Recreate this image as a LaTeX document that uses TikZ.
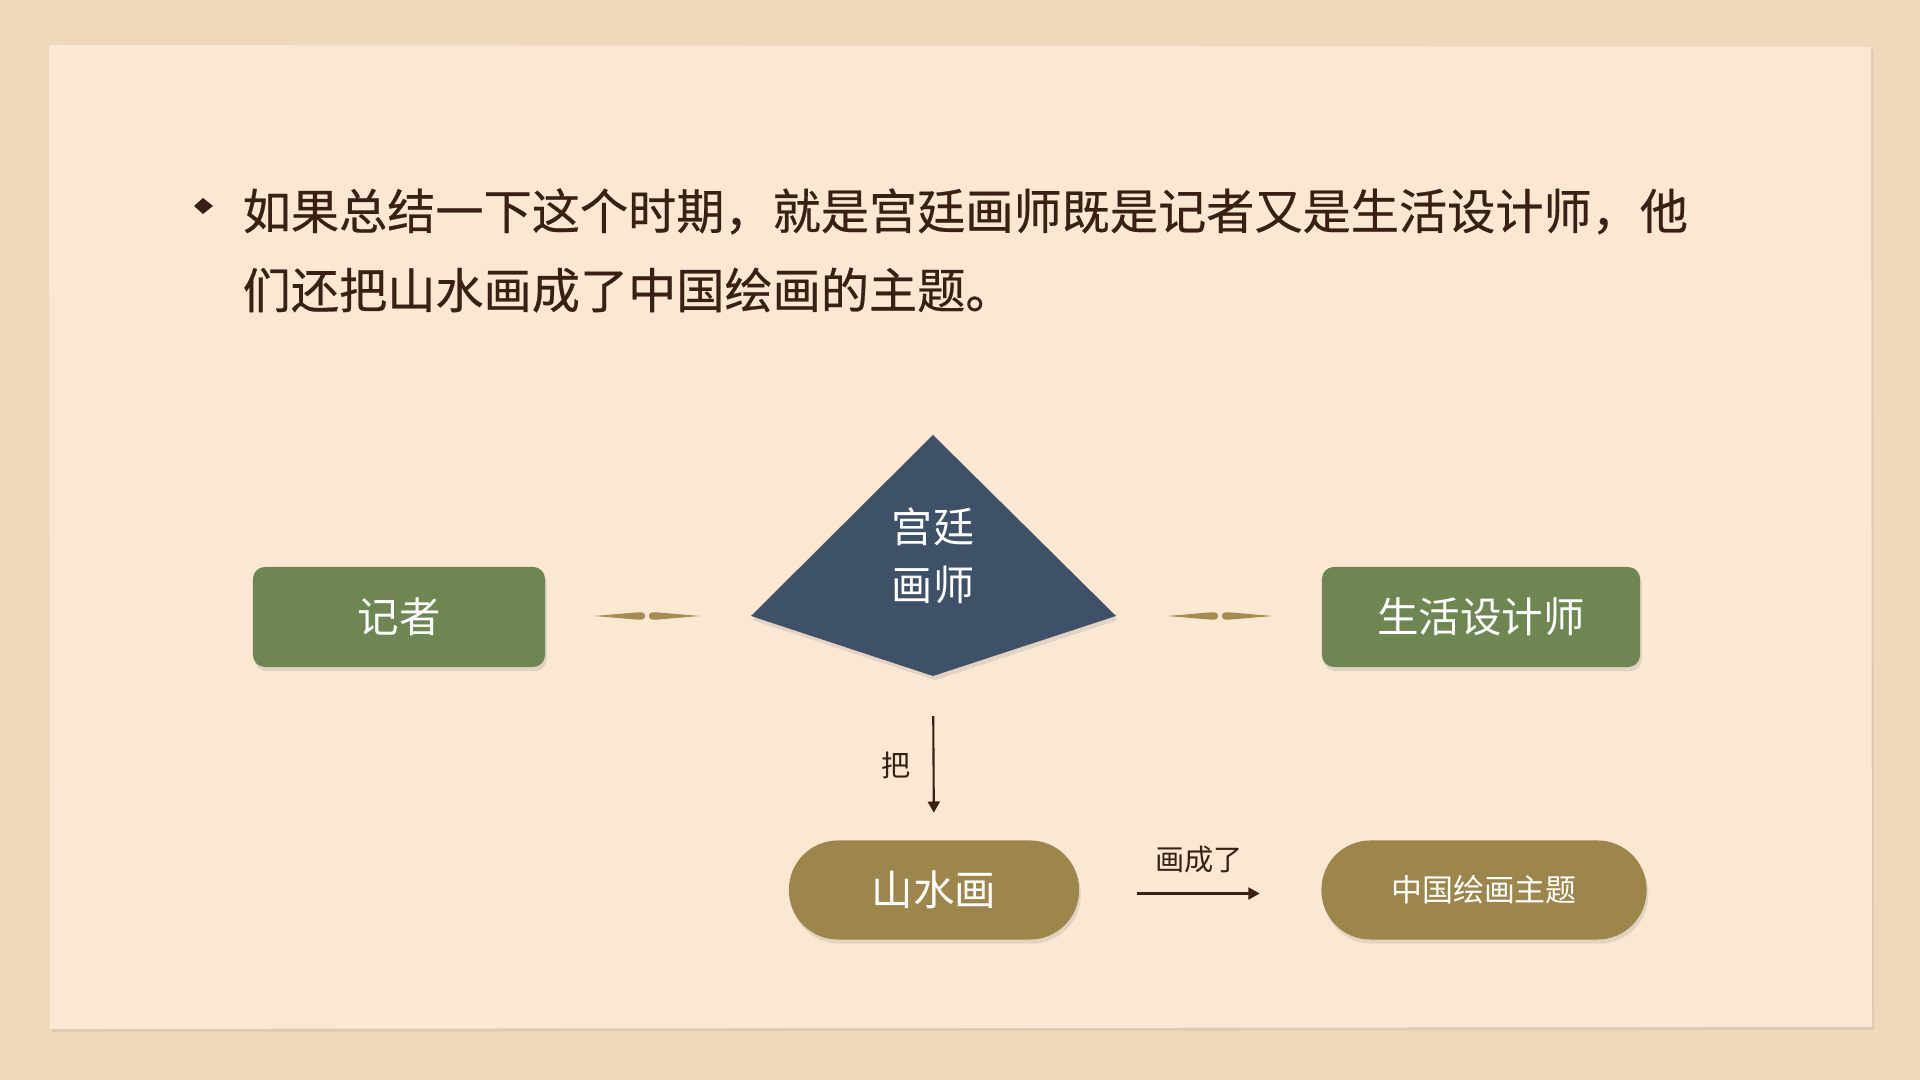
\documentclass[tikz,border=0pt]{standalone}
\usepackage{fontspec}
\setmainfont{Noto Sans CJK SC}
\newfontfamily\bodyfont{Noto Sans CJK SC}[FakeBold=0.5]
\usetikzlibrary{arrows.meta,shadows}
\definecolor{bgtan}{HTML}{EFD8BB}
\definecolor{paper}{HTML}{FBE8D3}
\definecolor{ink}{HTML}{3A2014}
\definecolor{navy}{HTML}{3F5069}
\definecolor{sage}{HTML}{6E8651}
\definecolor{olive}{HTML}{9C864B}
\definecolor{spin}{HTML}{A48D50}
\tikzset{
  boxshadow/.style={drop shadow={opacity=0.2,shadow xshift=0.5pt,shadow yshift=-1.2pt}},
  greenbox/.style={fill=sage,rounded corners=0.12cm,minimum height=1.0cm,inner sep=0pt,
    text=white,font=\fontsize{11.8pt}{14pt}\selectfont,boxshadow},
  olivebox/.style={fill=olive,rounded corners=0.49cm,minimum height=0.99cm,inner sep=0pt,
    text=white,boxshadow},
  arr/.style={draw=ink,line width=0.6pt,-{Triangle[length=3.2pt,width=3.4pt]}},
  lbl/.style={text=ink,font=\fontsize{8.3pt}{10pt}\selectfont,inner sep=0pt},
}
\begin{document}
\begin{tikzpicture}[x=0.01cm,y=-0.01cm]
\useasboundingbox (0,0) rectangle (1920,1080);
\fill[bgtan] (0,0) rectangle (1920,1080);
\fill[paper,drop shadow={opacity=0.15,shadow xshift=0.6pt,shadow yshift=-0.8pt}]
  (49,45) -- (1871,47) -- (1872,1027) -- (50,1029) -- cycle;

% bullet
\fill[ink] (194,206) -- (203,198) -- (213,206) -- (203,214) -- cycle;
% body text
\node[anchor=west,inner sep=0pt,align=left,text=ink,
      font=\bodyfont\fontsize{13.7pt}{22.5pt}\selectfont] (body) at (242,250.5)
  {如果总结一下这个时期，就是宫廷画师既是记者又是生活设计师，他\\们还把山水画成了中国绘画的主题。};

% kite
\coordinate (kt) at (933,435);
\coordinate (kr) at (1116,616);
\coordinate (kb) at (933,676);
\coordinate (kl) at (751,616);
\fill[navy,drop shadow={opacity=0.2,shadow xshift=0.5pt,shadow yshift=-1.2pt}]
  (kt) -- (kr) -- (kb) -- (kl) -- cycle;
\node[text=white,align=center,inner sep=0pt,
      font=\fontsize{11.7pt}{16.5pt}\selectfont] (kite) at (933,556) {宫廷\\画师};

% side boxes
\node[greenbox,minimum width=2.92cm] (jz) at (399,617) {记者};
\node[greenbox,minimum width=3.18cm] (sh) at (1481,617) {生活设计师};

% decorative spindles
\coordinate (d1) at (647,616);
\coordinate (d2) at (1220,616);
\foreach \c in {d1,d2}{
  \begin{scope}[shift={(\c)}]
    \fill[spin] (-53,0) -- (-10,-3.6) .. controls (-4,-4.2) and (-2,-3) .. (-2,0)
       .. controls (-2,3) and (-4,4.2) .. (-10,3.6) -- cycle;
    \fill[spin] (53,0) -- (10,-3.6) .. controls (4,-4.2) and (2,-3) .. (2,0)
       .. controls (2,3) and (4,4.2) .. (10,3.6) -- cycle;
  \end{scope}
}

% bottom boxes
\node[olivebox,minimum width=2.90cm,font=\fontsize{11.8pt}{14pt}\selectfont] (ss) at (934,890) {山水画};
\node[olivebox,minimum width=3.25cm,font=\fontsize{8.8pt}{11pt}\selectfont] (zg) at (1484,890) {中国绘画主题};

% arrows
\draw[arr,shorten <=0.40cm,shorten >=0.27cm] (kb) -- (ss.north);
\node[lbl] (lba) at (896,765) {把};
\draw[arr,shorten <=0.57cm,shorten >=0.61cm] ([yshift=-1pt]ss.east) -- ([yshift=-1pt]zg.west);
\node[lbl] (lbb) at (1199,860) {画成了};
\end{tikzpicture}
\end{document}
